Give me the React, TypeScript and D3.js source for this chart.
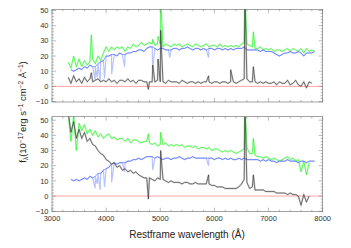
import React from 'react';
import * as d3 from 'd3';

// spectra: continuum sampled every 50 A from `start`, narrow lines / dips listed apart as [wavelength, flux]
const waveStep = 50;

const topGreenStart = 3300;
const topGreen = [
  16, 12, 20, 13, 18, 13, 17, 14, 16, 18,
  15, 20, 17, 22, 26, 23, 26, 24, 26, 25,
  26, 23, 26, 25, 28, 26, 27, 29, 27, 28,
  29, 28, 27, 28, 28, 26, 28, 27, 26, 28,
  27, 28, 26, 27, 28, 27, 26, 28, 27, 26,
  27, 28, 26, 27, 27, 26, 28, 26, 27, 26,
  27, 26, 27, 26, 28, 29, 28, 27, 26, 25,
  25, 26, 24, 25, 24, 25, 23, 24, 24, 23,
  24, 25, 23, 25, 24, 23, 25, 22, 25, 23,
  24, 23,
];
const topGreenLines = [[3727, 34], [4861, 31], [4959, 33], [5007, 58], [6563, 60], [6720, 36]];

const topBlueStart = 3350;
const topBlue = [
  11, 10, 11, 12, 11, 13, 12, 14, 13,
  13, 15, 16, 17, 20, 20, 21, 21, 20, 22,
  21, 21, 22, 22, 23, 23, 24, 24, 23, 25,
  26, 26, 25, 24, 25, 25, 24, 24, 24, 25,
  25, 24, 25, 25, 26, 25, 24, 25, 25, 24,
  25, 24, 25, 25, 24, 25, 25, 24, 25, 24,
  25, 24, 25, 25, 25, 26, 24, 24, 24, 24,
  24, 23, 24, 23, 23, 23, 22, 21, 20, 21,
  22, 22, 23, 22, 22, 23, 22, 20, 22, 22,
  22, 23,
];
const topBlueLines = [[3798, 4], [3835, 6], [3889, 3], [3970, 5], [4102, 8], [4340, 13], [4861, 12], [5175, 19], [5892, 19]];

const topBlackStart = 3300;
const topBlack = [
  6, 2, 7, 3, 5, 2, 6, 3, 5, 3,
  4, 5, 3, 4, 3, 5, 3, 4, 2, 4,
  4, 3, 5, 3, 4, 2, 4, 4, 3, 3,
  3, 3, 3, 4, 3, 3, 2, 4, 3, 3,
  3, 2, 4, 3, 2, 3, 3, 2, 3, 2,
  3, 3, 3, 2, 3, 3, 2, 3, 3, 2,
  3, 3, 2, 3, 4, 5, 5, 3, 3, 3,
  2, 3, 2, 3, 2, 2, 3, 1, 3, 2,
  2, 4, 1, 2, 4, 1, 0, 3, -1, 3,
  2,
];
const topBlackLines = [[3727, 9], [4780, -2], [4861, 14], [4959, 18], [5007, 37], [5892, 7], [6300, 11], [6563, 60], [6720, 13]];

const botGreenStart = 3300;
const botGreen = [
  55, 36, 53, 30, 48, 43, 47, 41, 44, 40,
  43, 39, 41, 38, 40, 41, 38, 39, 37, 38,
  38, 36, 38, 35, 37, 37, 36, 35, 36, 36,
  35, 34, 35, 33, 34, 34, 35, 33, 34, 33,
  34, 33, 34, 32, 33, 33, 32, 33, 31, 32,
  32, 31, 32, 30, 31, 31, 30, 29, 30, 29,
  30, 29, 28, 29, 30, 31, 32, 28, 28, 27,
  26, 26, 25, 26, 25, 24, 25, 24, 23, 24,
  25, 26, 24, 25, 23, 24, 16, 23, 14, 22,
];
const botGreenLines = [[4780, 41], [5007, 42], [6563, 60], [6720, 38]];

const botBlueStart = 3350;
const botBlue = [
  11, 10, 11, 10, 11, 12, 11, 13, 12,
  13, 15, 15, 17, 18, 19, 21, 22, 21, 22,
  22, 22, 23, 23, 24, 24, 25, 24, 25, 26,
  26, 26, 25, 26, 25, 24, 25, 25, 24, 25,
  25, 26, 25, 24, 25, 25, 26, 25, 25, 25,
  25, 25, 25, 25, 24, 25, 25, 24, 25, 24,
  25, 24, 24, 25, 24, 25, 24, 24, 24, 24,
  24, 23, 24, 23, 24, 23, 23, 22, 23, 23,
  23, 24, 23, 23, 23, 22, 23, 23, 22, 23,
  23, 23,
];
const botBlueLines = [[3798, 5], [3835, 8], [3889, 4], [3970, 6], [4102, 9], [4340, 16], [4861, 17], [5892, 20]];

const botBlackStart = 3300;
const botBlack = [
  55, 42, 49, 38, 44, 38, 42, 36, 38, 34,
  33, 30, 28, 27, 24, 23, 21, 22, 19, 20,
  17, 18, 16, 17, 15, 16, 14, 13, 12, 12,
  12, 11, 10, 12, 11, 11, 10, 9, 10, 9,
  9, 9, 8, 9, 9, 8, 8, 9, 8, 8,
  8, 8, 8, 7, 7, 6, 6, 6, 5, 5,
  5, 5, 5, 6, 8, 11, 9, 5, 6, 4,
  4, 4, 4, 3, 3, 3, 3, 2, 2, 2,
  2, 1, 2, 1, 1, 0, -6, 1, -4, 0,
];
const botBlackLines = [[4780, -2], [5007, 30], [5892, 14], [6563, 60], [6720, 14]];

const xTicks = [3000, 4000, 5000, 6000, 7000, 8000];
const yTicks = [-10, 0, 10, 20, 30, 40, 50];

const W = 351;
const H = 248;
const x = d3.scaleLinear().domain([3000, 8000]).range([52, 322.7]);
const yTop = d3.scaleLinear().domain([-10.3, 50.8]).range([102, 9.3]);
const yBot = d3.scaleLinear().domain([-10.3, 52.3]).range([211.7, 116.7]);

const font = 'Liberation Sans, Arial, sans-serif';

type Series = { start: number; values: number[]; lines: number[][]; color: string; halo: string; linesInCore: boolean };

const toPoints = (s: Series, withLines: boolean) => {
  const pts = s.values.map((v, i) => [s.start + i * waveStep, v]);
  return withLines ? pts.concat(s.lines).sort((a, b) => a[0] - b[0]) : pts;
};

const Panel = ({ y, id, series, labels }: { y: d3.ScaleLinear<number, number>; id: string; series: Series[]; labels: boolean }) => {
  const [x0, x1] = x.range();
  const [yb, yt] = y.range();
  const minorX = d3.range(3000, 8001, 200);
  const minorY = d3.range(-10, 51, 2);
  const line = d3.line<number[]>().x(d => x(d[0])).y(d => y(d[1]));
  return (
    <g>
      <clipPath id={id}>
        <rect x={x0} y={yt} width={x1 - x0} height={yb - yt} />
      </clipPath>
      <line x1={x0} x2={x1} y1={y(0)} y2={y(0)} stroke="#ff8c8c" strokeWidth={0.8} />
      <g clipPath={`url(#${id})`}>
        {series.map((s, k) => (
          <g key={k}>
            <path d={line(toPoints(s, true)) || ''} fill="none" stroke={s.halo} strokeWidth={s.linesInCore ? 1.8 : 1.2} opacity={s.linesInCore ? 0.4 : 0.7} />
            <path d={line(toPoints(s, s.linesInCore)) || ''} fill="none" stroke={s.color} strokeWidth={0.6} />
          </g>
        ))}
      </g>
      <rect x={x0} y={yt} width={x1 - x0} height={yb - yt} fill="none" stroke="#666" strokeWidth={0.6} />
      {minorX.map(t => {
        const l = t % 1000 === 0 ? 4 : 2;
        return (
          <g key={t} stroke="#777" strokeWidth={0.5}>
            <line x1={x(t)} x2={x(t)} y1={yb} y2={yb - l} />
            <line x1={x(t)} x2={x(t)} y1={yt} y2={yt + l} />
          </g>
        );
      })}
      {minorY.map(t => {
        const l = t % 10 === 0 ? 4 : 2;
        return (
          <g key={t} stroke="#777" strokeWidth={0.5}>
            <line x1={x0} x2={x0 + l} y1={y(t)} y2={y(t)} />
            <line x1={x1} x2={x1 - l} y1={y(t)} y2={y(t)} />
          </g>
        );
      })}
      {yTicks.map(t => (
        <text key={t} x={x0 - 3.5} y={y(t)} dy="0.35em" textAnchor="end" fontSize={7.5} fontFamily={font} fill="#333">
          {t < 0 ? '\u2212' + Math.abs(t) : t}
        </text>
      ))}
      {labels && xTicks.map(t => (
        <text key={t} x={x(t)} y={yb + 9.5} textAnchor="middle" fontSize={7.5} fontFamily={font} fill="#333">
          {t}
        </text>
      ))}
    </g>
  );
};

export default function App() {
  const green = { color: '#10f010', halo: '#90ff90', linesInCore: true };
  const blue = { color: '#3a5cff', halo: '#9aaaff', linesInCore: false };
  const black = { color: '#2a2a2a', halo: '#999999', linesInCore: true };
  const topSeries: Series[] = [
    { start: topGreenStart, values: topGreen, lines: topGreenLines, ...green },
    { start: topBlueStart, values: topBlue, lines: topBlueLines, ...blue },
    { start: topBlackStart, values: topBlack, lines: topBlackLines, ...black },
  ];
  const botSeries: Series[] = [
    { start: botGreenStart, values: botGreen, lines: botGreenLines, ...green },
    { start: botBlueStart, values: botBlue, lines: botBlueLines, ...blue },
    { start: botBlackStart, values: botBlack, lines: botBlackLines, ...black },
  ];
  return (
    <svg width={W} height={H} style={{ position: 'absolute', left: 0, top: 0, background: '#fff' }}>
      <Panel y={yTop} id="clipTop" series={topSeries} labels={false} />
      <Panel y={yBot} id="clipBot" series={botSeries} labels={true} />
      <text x={187} y={238} textAnchor="middle" fontSize={10} fontFamily={font} fill="#222">
        Restframe wavelength (Å)
      </text>
      <text transform="translate(26,112) rotate(-90)" textAnchor="middle" fontSize={9.5} fontFamily={font} fill="#222">
        f<tspan fontSize={6.5} dy={2}>λ</tspan>
        <tspan dy={-2}>(10</tspan>
        <tspan fontSize={6.5} dy={-3.5}>−17</tspan>
        <tspan dy={3.5}>erg s</tspan>
        <tspan fontSize={6.5} dy={-3.5}>−1</tspan>
        <tspan dy={3.5}> cm</tspan>
        <tspan fontSize={6.5} dy={-3.5}>−2</tspan>
        <tspan dy={3.5}> Å</tspan>
        <tspan fontSize={6.5} dy={-3.5}>−1</tspan>
        <tspan dy={3.5}>)</tspan>
      </text>
    </svg>
  );
}
